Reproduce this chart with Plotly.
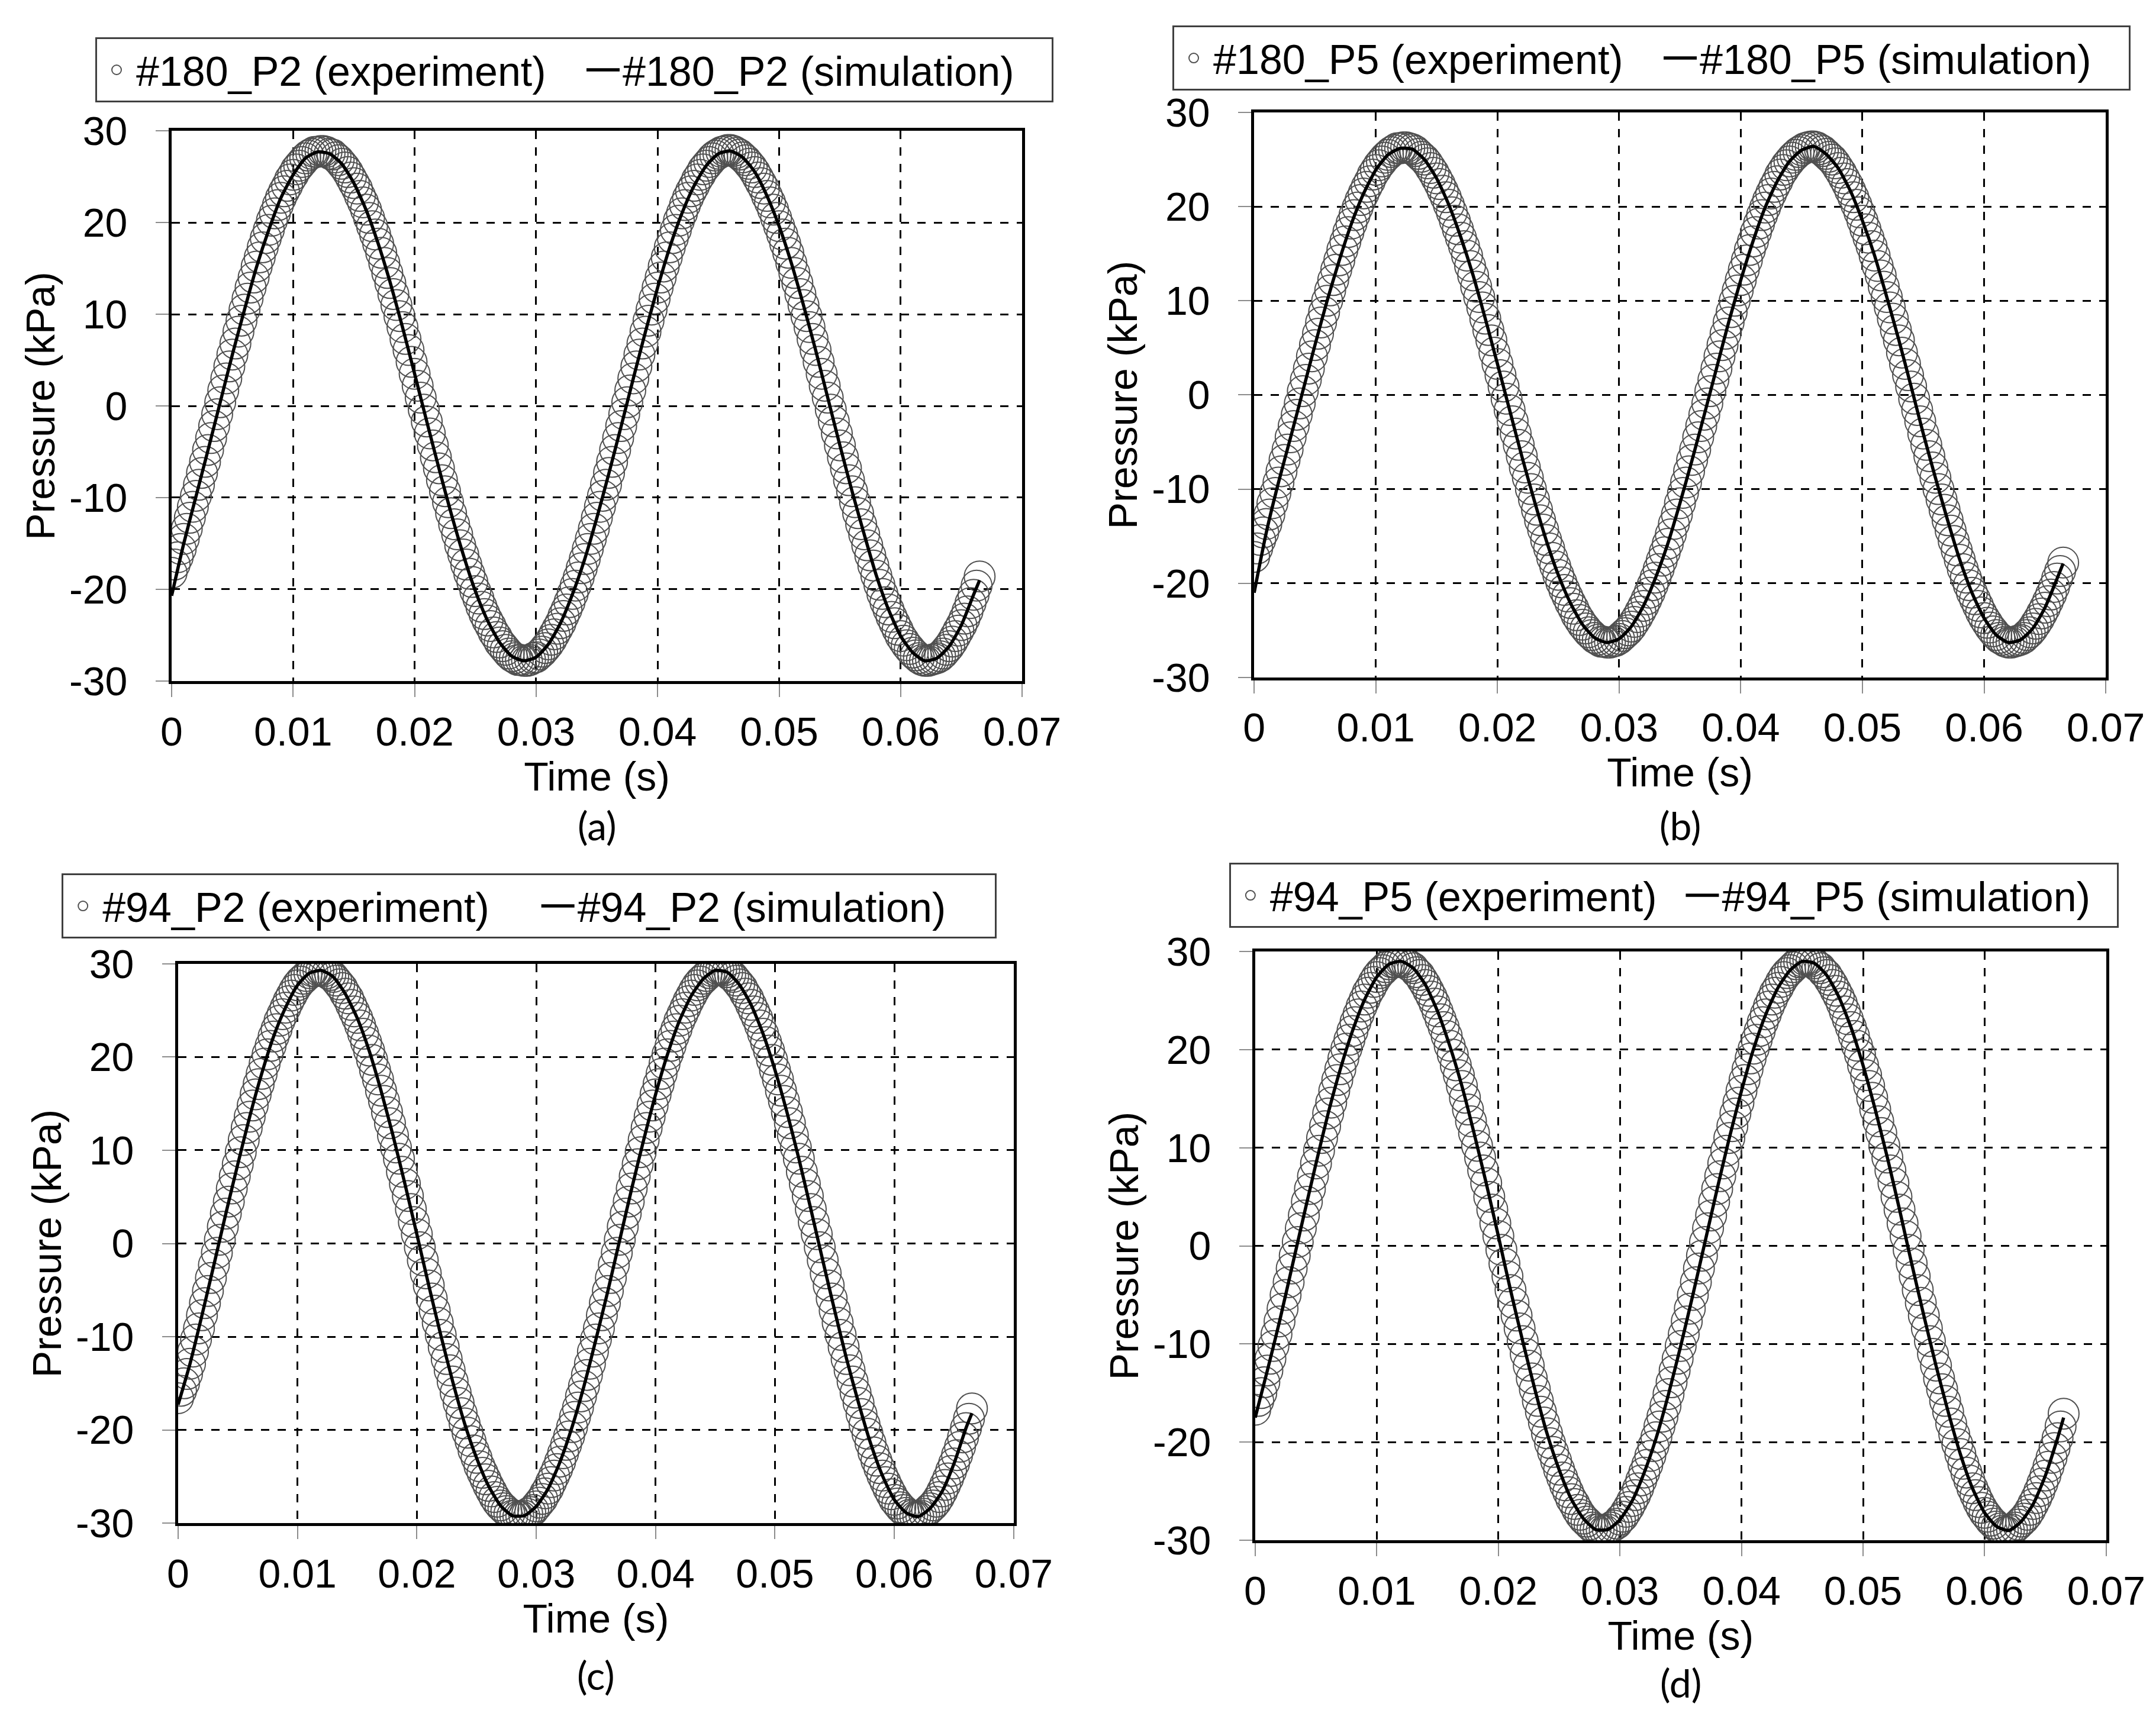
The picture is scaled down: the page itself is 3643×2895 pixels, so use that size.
import plotly.graph_objects as go

# time of the measured points (s), one every 0.25 ms
T_EXP = [
    0, 0.00025, 0.0005, 0.00075, 0.001, 0.00125, 0.0015, 0.00175,
    0.002, 0.00225, 0.0025, 0.00275, 0.003, 0.00325, 0.0035, 0.00375,
    0.004, 0.00425, 0.0045, 0.00475, 0.005, 0.00525, 0.0055, 0.00575,
    0.006, 0.00625, 0.0065, 0.00675, 0.007, 0.00725, 0.0075, 0.00775,
    0.008, 0.00825, 0.0085, 0.00875, 0.009, 0.00925, 0.0095, 0.00975,
    0.01, 0.01025, 0.0105, 0.01075, 0.011, 0.01125, 0.0115, 0.01175,
    0.012, 0.01225, 0.0125, 0.01275, 0.013, 0.01325, 0.0135, 0.01375,
    0.014, 0.01425, 0.0145, 0.01475, 0.015, 0.01525, 0.0155, 0.01575,
    0.016, 0.01625, 0.0165, 0.01675, 0.017, 0.01725, 0.0175, 0.01775,
    0.018, 0.01825, 0.0185, 0.01875, 0.019, 0.01925, 0.0195, 0.01975,
    0.02, 0.02025, 0.0205, 0.02075, 0.021, 0.02125, 0.0215, 0.02175,
    0.022, 0.02225, 0.0225, 0.02275, 0.023, 0.02325, 0.0235, 0.02375,
    0.024, 0.02425, 0.0245, 0.02475, 0.025, 0.02525, 0.0255, 0.02575,
    0.026, 0.02625, 0.0265, 0.02675, 0.027, 0.02725, 0.0275, 0.02775,
    0.028, 0.02825, 0.0285, 0.02875, 0.029, 0.02925, 0.0295, 0.02975,
    0.03, 0.03025, 0.0305, 0.03075, 0.031, 0.03125, 0.0315, 0.03175,
    0.032, 0.03225, 0.0325, 0.03275, 0.033, 0.03325, 0.0335, 0.03375,
    0.034, 0.03425, 0.0345, 0.03475, 0.035, 0.03525, 0.0355, 0.03575,
    0.036, 0.03625, 0.0365, 0.03675, 0.037, 0.03725, 0.0375, 0.03775,
    0.038, 0.03825, 0.0385, 0.03875, 0.039, 0.03925, 0.0395, 0.03975,
    0.04, 0.04025, 0.0405, 0.04075, 0.041, 0.04125, 0.0415, 0.04175,
    0.042, 0.04225, 0.0425, 0.04275, 0.043, 0.04325, 0.0435, 0.04375,
    0.044, 0.04425, 0.0445, 0.04475, 0.045, 0.04525, 0.0455, 0.04575,
    0.046, 0.04625, 0.0465, 0.04675, 0.047, 0.04725, 0.0475, 0.04775,
    0.048, 0.04825, 0.0485, 0.04875, 0.049, 0.04925, 0.0495, 0.04975,
    0.05, 0.05025, 0.0505, 0.05075, 0.051, 0.05125, 0.0515, 0.05175,
    0.052, 0.05225, 0.0525, 0.05275, 0.053, 0.05325, 0.0535, 0.05375,
    0.054, 0.05425, 0.0545, 0.05475, 0.055, 0.05525, 0.0555, 0.05575,
    0.056, 0.05625, 0.0565, 0.05675, 0.057, 0.05725, 0.0575, 0.05775,
    0.058, 0.05825, 0.0585, 0.05875, 0.059, 0.05925, 0.0595, 0.05975,
    0.06, 0.06025, 0.0605, 0.06075, 0.061, 0.06125, 0.0615, 0.06175,
    0.062, 0.06225, 0.0625, 0.06275, 0.063, 0.06325, 0.0635, 0.06375,
    0.064, 0.06425, 0.0645, 0.06475, 0.065, 0.06525, 0.0655, 0.06575,
    0.066, 0.06625, 0.0665,
]
# time of the simulated curve (s)
T_SIM = [
    0, 0.001, 0.002, 0.003, 0.004, 0.005, 0.006, 0.007, 0.008, 0.009,
    0.01, 0.011, 0.012, 0.013, 0.014, 0.015, 0.016, 0.017, 0.018, 0.019,
    0.02, 0.021, 0.022, 0.023, 0.024, 0.025, 0.026, 0.027, 0.028, 0.029,
    0.03, 0.031, 0.032, 0.033, 0.034, 0.035, 0.036, 0.037, 0.038, 0.039,
    0.04, 0.041, 0.042, 0.043, 0.044, 0.045, 0.046, 0.047, 0.048, 0.049,
    0.05, 0.051, 0.052, 0.053, 0.054, 0.055, 0.056, 0.057, 0.058, 0.059,
    0.06, 0.061, 0.062, 0.063, 0.064, 0.065, 0.066, 0.0665,
]

# (a) #180_P2, pressure in kPa
EXP_A = [
    -18.2, -17.3, -16.5, -15.6, -14.5, -13.4, -12.2, -11.0, -9.8, -8.6,
    -7.3, -6.1, -4.8, -3.5, -2.2, -0.9, 0.4, 1.7, 3.0, 4.3,
    5.6, 6.8, 8.1, 9.3, 10.5, 11.7, 12.9, 14.0, 15.2, 16.2,
    17.3, 18.3, 19.2, 20.2, 21.0, 21.9, 22.7, 23.4, 24.0, 24.7,
    25.2, 25.8, 26.2, 26.6, 27.0, 27.3, 27.5, 27.7, 27.7, 27.8,
    27.8, 27.7, 27.5, 27.4, 27.1, 26.8, 26.4, 26.0, 25.5, 24.9,
    24.3, 23.7, 22.9, 22.2, 21.4, 20.5, 19.6, 18.7, 17.7, 16.7,
    15.6, 14.5, 13.4, 12.2, 11.0, 9.8, 8.6, 7.3, 6.1, 4.8,
    3.5, 2.2, 0.9, -0.4, -1.7, -3.0, -4.3, -5.6, -6.8, -8.1,
    -9.3, -10.5, -11.7, -12.9, -14.0, -15.2, -16.2, -17.3, -18.3, -19.2,
    -20.2, -21.0, -21.9, -22.7, -23.4, -24.0, -24.7, -25.2, -25.8, -26.2,
    -26.6, -27.0, -27.3, -27.5, -27.7, -27.7, -27.8, -27.8, -27.7, -27.5,
    -27.4, -27.1, -26.8, -26.4, -26.0, -25.5, -24.9, -24.3, -23.7, -22.9,
    -22.2, -21.4, -20.5, -19.6,
    -18.7, -17.7, -16.7, -15.6, -14.5, -13.4, -12.2, -11.0, -9.8, -8.6,
    -7.3, -6.1, -4.8, -3.5, -2.2, -0.9, 0.4, 1.7, 3.0, 4.3,
    5.6, 6.8, 8.1, 9.3, 10.5, 11.7, 12.9, 14.0, 15.2, 16.2,
    17.3, 18.3, 19.2, 20.2, 21.0, 21.9, 22.7, 23.4, 24.0, 24.7,
    25.2, 25.8, 26.2, 26.6, 27.0, 27.3, 27.5, 27.7, 27.8, 27.9,
    27.9, 27.8, 27.6, 27.4, 27.1, 26.8, 26.4, 26.0, 25.5, 24.9,
    24.3, 23.7, 22.9, 22.2, 21.4, 20.5, 19.6, 18.7, 17.7, 16.7,
    15.6, 14.5, 13.4, 12.2, 11.0, 9.8, 8.6, 7.3, 6.1, 4.8,
    3.5, 2.2, 0.9, -0.4, -1.7, -3.0, -4.3, -5.6, -6.8, -8.1,
    -9.3, -10.5, -11.7, -12.9, -14.0, -15.2, -16.3, -17.4, -18.5, -19.5,
    -20.5, -21.4, -22.2, -23.0, -23.7, -24.4, -25.1, -25.6, -26.1, -26.5,
    -26.9, -27.2, -27.5, -27.7, -27.8, -27.8, -27.7, -27.6, -27.5, -27.3,
    -27.0, -26.6, -26.2, -25.7, -25.1, -24.5, -23.9, -23.2, -22.4, -21.5,
    -20.6, -19.6, -18.6,
]
SIM_A = [
    -20.7, -15.0, -9.9, -4.8, 0.4, 5.6, 10.5, 15.2, 19.2, 22.7,
    25.2, 27.0, 27.7, 27.5, 26.4, 24.3, 21.4, 17.7, 13.4, 8.6,
    3.5, -1.7, -6.8, -11.7, -16.2, -20.2, -23.4, -25.8, -27.3, -27.8,
    -27.4, -26.0, -23.7, -20.5, -16.7, -12.2, -7.3, -2.2, 3.0, 8.1,
    12.9, 17.3, 21.0, 24.0, 26.2, 27.5, 27.8, 27.1, 25.5, 22.9,
    19.6, 15.6, 11.0, 6.1, 0.9, -4.3, -9.3, -14.0, -18.5, -22.2,
    -25.1, -26.9, -27.8, -27.5, -26.2, -23.9, -20.6, -19.0,
]

# (b) #180_P5
EXP_B = [
    -17.2, -16.3, -15.4, -14.6, -13.7, -12.7, -11.5, -10.4, -9.3, -8.1,
    -6.9, -5.8, -4.5, -3.3, -2.1, -0.9, 0.4, 1.6, 2.8, 4.1,
    5.3, 6.5, 7.7, 8.8, 10.0, 11.1, 12.2, 13.3, 14.3, 15.4,
    16.3, 17.3, 18.2, 19.1, 19.9, 20.7, 21.4, 22.1, 22.7, 23.4,
    23.9, 24.4, 24.8, 25.2, 25.5, 25.8, 26.0, 26.2, 26.2, 26.3,
    26.3, 26.2, 26.1, 25.9, 25.6, 25.3, 25.0, 24.6, 24.1, 23.6,
    23.0, 22.4, 21.7, 21.0, 20.2, 19.4, 18.5, 17.6, 16.7, 15.8,
    14.8, 13.7, 12.7, 11.5, 10.4, 9.3, 8.1, 6.9, 5.8, 4.5,
    3.3, 2.1, 0.9, -0.4, -1.6, -2.8, -4.1, -5.3, -6.5, -7.7,
    -8.8, -10.0, -11.1, -12.2, -13.3, -14.3, -15.4, -16.3, -17.3, -18.2,
    -19.1, -19.9, -20.7, -21.4, -22.1, -22.7, -23.4, -23.9, -24.4, -24.8,
    -25.2, -25.5, -25.8, -26.0, -26.2, -26.2, -26.3, -26.3, -26.2, -26.1,
    -25.9, -25.6, -25.3, -25.0, -24.6, -24.1, -23.6, -23.0, -22.4, -21.7,
    -21.0, -20.2, -19.4, -18.5,
    -17.6, -16.7, -15.8, -14.8, -13.7, -12.7, -11.5, -10.4, -9.3, -8.1,
    -6.9, -5.8, -4.5, -3.3, -2.1, -0.9, 0.4, 1.6, 2.8, 4.1,
    5.3, 6.5, 7.7, 8.8, 10.0, 11.1, 12.2, 13.3, 14.3, 15.4,
    16.3, 17.3, 18.2, 19.1, 19.9, 20.7, 21.4, 22.1, 22.7, 23.4,
    23.9, 24.4, 24.8, 25.2, 25.5, 25.8, 26.0, 26.2, 26.3, 26.4,
    26.4, 26.3, 26.1, 25.9, 25.6, 25.3, 25.0, 24.6, 24.1, 23.6,
    23.0, 22.4, 21.7, 21.0, 20.2, 19.4, 18.5, 17.6, 16.7, 15.8,
    14.8, 13.7, 12.7, 11.5, 10.4, 9.3, 8.1, 6.9, 5.8, 4.5,
    3.3, 2.1, 0.9, -0.4, -1.6, -2.8, -4.1, -5.3, -6.5, -7.7,
    -8.8, -10.0, -11.1, -12.2, -13.3, -14.4, -15.5, -16.5, -17.5, -18.5,
    -19.4, -20.2, -21.0, -21.7, -22.4, -23.1, -23.7, -24.2, -24.7, -25.1,
    -25.5, -25.8, -26.0, -26.2, -26.3, -26.3, -26.2, -26.1, -26.0, -25.8,
    -25.5, -25.2, -24.8, -24.3, -23.8, -23.2, -22.6, -21.9, -21.2, -20.4,
    -19.5, -18.7, -17.8,
]
SIM_B = [
    -21.0, -14.6, -9.3, -4.5, 0.4, 5.3, 10.0, 14.3, 18.2, 21.4,
    23.9, 25.5, 26.2, 26.1, 25.0, 23.0, 20.2, 16.7, 12.7, 8.1,
    3.3, -1.6, -6.5, -11.1, -15.4, -19.1, -22.1, -24.4, -25.8, -26.3,
    -25.9, -24.6, -22.4, -19.4, -15.8, -11.5, -6.9, -2.1, 2.8, 7.7,
    12.2, 16.3, 19.9, 22.7, 24.8, 26.0, 26.4, 25.6, 24.1, 21.7,
    18.5, 14.8, 10.4, 5.8, 0.9, -4.1, -8.8, -13.3, -17.5, -21.0,
    -23.7, -25.5, -26.3, -26.0, -24.8, -22.6, -19.5, -17.9,
]

# (c) #94_P2
EXP_C = [
    -16.6, -15.8, -15.0, -14.0, -12.9, -11.6, -10.3, -9.1, -7.7, -6.4,
    -5.1, -3.7, -2.3, -1.0, 0.4, 1.8, 3.2, 4.5, 5.9, 7.2,
    8.5, 9.8, 11.1, 12.4, 13.6, 14.8, 16.0, 17.1, 18.2, 19.3,
    20.3, 21.2, 22.2, 23.0, 23.9, 24.6, 25.3, 26.0, 26.6, 27.2,
    27.7, 28.1, 28.4, 28.7, 29.0, 29.2, 29.2, 29.3, 29.3, 29.2,
    29.0, 28.8, 28.6, 28.2, 27.8, 27.4, 26.8, 26.3, 25.6, 24.9,
    24.2, 23.4, 22.5, 21.6, 20.7, 19.7, 18.6, 17.6, 16.4, 15.3,
    14.1, 12.9, 11.6, 10.3, 9.1, 7.7, 6.4, 5.1, 3.7, 2.3,
    1.0, -0.4, -1.8, -3.2, -4.5, -5.9, -7.2, -8.5, -9.8, -11.1,
    -12.4, -13.6, -14.8, -16.0, -17.1, -18.2, -19.3, -20.3, -21.2, -22.2,
    -23.0, -23.9, -24.6, -25.3, -26.0, -26.6, -27.2, -27.7, -28.1, -28.4,
    -28.7, -29.0, -29.2, -29.2, -29.3, -29.3, -29.2, -29.0, -28.8, -28.6,
    -28.2, -27.8, -27.4, -26.8, -26.3, -25.6, -24.9, -24.2, -23.4, -22.5,
    -21.6, -20.7, -19.7, -18.6,
    -17.6, -16.4, -15.3, -14.1, -12.9, -11.6, -10.3, -9.1, -7.7, -6.4,
    -5.1, -3.7, -2.3, -1.0, 0.4, 1.8, 3.2, 4.5, 5.9, 7.2,
    8.5, 9.8, 11.1, 12.4, 13.6, 14.8, 16.0, 17.1, 18.2, 19.3,
    20.3, 21.2, 22.2, 23.0, 23.9, 24.6, 25.3, 26.0, 26.6, 27.2,
    27.7, 28.1, 28.4, 28.7, 29.0, 29.2, 29.3, 29.4, 29.4, 29.3,
    29.1, 28.8, 28.6, 28.2, 27.8, 27.4, 26.8, 26.3, 25.6, 24.9,
    24.2, 23.4, 22.5, 21.6, 20.7, 19.7, 18.6, 17.6, 16.4, 15.3,
    14.1, 12.9, 11.6, 10.3, 9.1, 7.7, 6.4, 5.1, 3.7, 2.3,
    1.0, -0.4, -1.8, -3.2, -4.5, -5.9, -7.2, -8.5, -9.8, -11.1,
    -12.4, -13.6, -14.8, -16.0, -17.1, -18.3, -19.4, -20.4, -21.4, -22.4,
    -23.3, -24.1, -24.9, -25.6, -26.3, -26.9, -27.5, -27.9, -28.3, -28.6,
    -28.9, -29.1, -29.2, -29.3, -29.3, -29.2, -29.0, -28.7, -28.4, -28.1,
    -27.7, -27.2, -26.6, -25.9, -25.2, -24.4, -23.6, -22.7, -21.8, -20.8,
    -19.8, -18.8, -17.7,
]
SIM_C = [
    -17.3, -12.9, -7.7, -2.3, 3.2, 8.5, 13.6, 18.2, 22.2, 25.3,
    27.7, 29.0, 29.3, 28.6, 26.8, 24.2, 20.7, 16.4, 11.6, 6.4,
    1.0, -4.5, -9.8, -14.8, -19.3, -23.0, -26.0, -28.1, -29.2, -29.2,
    -28.2, -26.3, -23.4, -19.7, -15.3, -10.3, -5.1, 0.4, 5.9, 11.1,
    16.0, 20.3, 23.9, 26.6, 28.4, 29.3, 29.1, 27.8, 25.6, 22.5,
    18.6, 14.1, 9.1, 3.7, -1.8, -7.2, -12.4, -17.1, -21.4, -24.9,
    -27.5, -28.9, -29.3, -28.4, -26.6, -23.6, -19.8, -18.2,
]

# (d) #94_P5
EXP_D = [
    -16.7, -15.8, -15.0, -13.9, -12.7, -11.5, -10.2, -9.0, -7.7, -6.4,
    -5.0, -3.7, -2.3, -1.0, 0.4, 1.8, 3.1, 4.5, 5.8, 7.1,
    8.4, 9.7, 11.0, 12.2, 13.5, 14.6, 15.8, 16.9, 18.0, 19.1,
    20.1, 21.0, 21.9, 22.8, 23.6, 24.4, 25.1, 25.8, 26.3, 26.9,
    27.4, 27.8, 28.1, 28.4, 28.7, 28.9, 28.9, 29.0, 29.0, 28.9,
    28.7, 28.5, 28.3, 27.9, 27.6, 27.1, 26.6, 26.0, 25.4, 24.7,
    23.9, 23.1, 22.3, 21.4, 20.4, 19.5, 18.4, 17.4, 16.3, 15.1,
    13.9, 12.7, 11.5, 10.2, 9.0, 7.7, 6.4, 5.0, 3.7, 2.3,
    1.0, -0.4, -1.8, -3.1, -4.5, -5.8, -7.1, -8.4, -9.7, -11.0,
    -12.2, -13.5, -14.6, -15.8, -16.9, -18.0, -19.1, -20.1, -21.0, -21.9,
    -22.8, -23.6, -24.4, -25.1, -25.8, -26.3, -26.9, -27.4, -27.8, -28.1,
    -28.4, -28.7, -28.9, -28.9, -29.0, -29.0, -28.9, -28.7, -28.5, -28.3,
    -27.9, -27.6, -27.1, -26.6, -26.0, -25.4, -24.7, -23.9, -23.1, -22.3,
    -21.4, -20.4, -19.5, -18.4,
    -17.4, -16.3, -15.1, -13.9, -12.7, -11.5, -10.2, -9.0, -7.7, -6.4,
    -5.0, -3.7, -2.3, -1.0, 0.4, 1.8, 3.1, 4.5, 5.8, 7.1,
    8.4, 9.7, 11.0, 12.2, 13.5, 14.6, 15.8, 16.9, 18.0, 19.1,
    20.1, 21.0, 21.9, 22.8, 23.6, 24.4, 25.1, 25.8, 26.3, 26.9,
    27.4, 27.8, 28.1, 28.4, 28.7, 28.9, 29.0, 29.1, 29.1, 29.0,
    28.8, 28.5, 28.3, 27.9, 27.6, 27.1, 26.6, 26.0, 25.4, 24.7,
    23.9, 23.1, 22.3, 21.4, 20.4, 19.5, 18.4, 17.4, 16.3, 15.1,
    13.9, 12.7, 11.5, 10.2, 9.0, 7.7, 6.4, 5.0, 3.7, 2.3,
    1.0, -0.4, -1.8, -3.1, -4.5, -5.8, -7.1, -8.4, -9.7, -11.0,
    -12.2, -13.5, -14.6, -15.8, -16.9, -18.1, -19.2, -20.2, -21.2, -22.2,
    -23.1, -23.9, -24.7, -25.4, -26.1, -26.7, -27.2, -27.6, -28.0, -28.3,
    -28.6, -28.8, -29.0, -29.1, -29.0, -28.9, -28.7, -28.4, -28.1, -27.8,
    -27.4, -26.9, -26.3, -25.7, -25.0, -24.2, -23.4, -22.5, -21.6, -20.6,
    -19.6, -18.4, -17.1,
]
SIM_D = [
    -17.5, -12.7, -7.7, -2.3, 3.1, 8.4, 13.5, 18.0, 21.9, 25.1,
    27.4, 28.7, 29.0, 28.3, 26.6, 23.9, 20.4, 16.3, 11.5, 6.4,
    1.0, -4.5, -9.7, -14.6, -19.1, -22.8, -25.8, -27.8, -28.9, -28.9,
    -27.9, -26.0, -23.1, -19.5, -15.1, -10.2, -5.0, 0.4, 5.8, 11.0,
    15.8, 20.1, 23.6, 26.3, 28.1, 29.0, 28.8, 27.6, 25.4, 22.3,
    18.4, 13.9, 9.0, 3.7, -1.8, -7.1, -12.2, -16.9, -21.2, -24.7,
    -27.2, -28.6, -29.0, -28.1, -26.3, -23.4, -19.6, -17.5,
]

X_TICKS = [0, 0.01, 0.02, 0.03, 0.04, 0.05, 0.06, 0.07]
X_TICK_TEXT = ["0", "0.01", "0.02", "0.03", "0.04", "0.05", "0.06", "0.07"]
Y_TICKS = [-30, -20, -10, 0, 10, 20, 30]
Y_TICK_TEXT = ["-30", "-20", "-10", "0", "10", "20", "30"]

W, H = 3643, 2895
FONT = "Liberation Sans, Arial, sans-serif"
NB = "\u00a0"  # non-breaking space, used to space the legend entries

# gap = spaces after the experiment entry, tail = spaces after the simulation entry
panels = [
    dict(exp=EXP_A, sim=SIM_A, name="#180_P2", tag="(a)", gap=3, tail=3,
         xdom=[0.0774, 0.4719], ydom=[0.6052, 0.9264], leg=(0.0420, 0.9810), tag_y=0.5209),
    dict(exp=EXP_B, sim=SIM_B, name="#180_P5", tag="(b)", gap=3, tail=3,
         xdom=[0.5795, 0.9745], ydom=[0.6073, 0.9371], leg=(0.5416, 0.9879), tag_y=0.5209),
    dict(exp=EXP_C, sim=SIM_C, name="#94_P2", tag="(c)", gap=4, tail=4,
         xdom=[0.0804, 0.4680], ydom=[0.1136, 0.4401], leg=(0.0264, 0.4929), tag_y=0.0249),
    dict(exp=EXP_D, sim=SIM_D, name="#94_P5", tag="(d)", gap=2, tail=2,
         xdom=[0.5800, 0.9747], ydom=[0.1036, 0.4473], leg=(0.5679, 0.4991), tag_y=0.0207),
]

fig = go.Figure()
layout = {}
annotations = []

for i, p in enumerate(panels, start=1):
    sfx = "" if i == 1 else str(i)
    leg = "legend" + sfx

    # measured points: open grey circles
    fig.add_trace(go.Scatter(
        x=T_EXP, y=p["exp"], mode="markers",
        name=p["name"] + " (experiment)" + NB * p["gap"],
        marker=dict(symbol="circle-open", size=52, color="#505050", line=dict(width=2)),
        xaxis="x" + sfx, yaxis="y" + sfx, legend=leg,
    ))
    # simulation: solid black line on top
    fig.add_trace(go.Scatter(
        x=T_SIM, y=p["sim"], mode="lines",
        name=p["name"] + " (simulation)" + NB * p["tail"],
        line=dict(color="black", width=5.5, shape="spline", smoothing=0.6),
        xaxis="x" + sfx, yaxis="y" + sfx, legend=leg,
    ))

    common = dict(
        showline=True, linecolor="black", linewidth=5, mirror=True,
        showgrid=True, gridcolor="black", gridwidth=3, griddash="14px,14px",
        zeroline=False, ticks="outside", ticklen=22, tickwidth=2, tickcolor="#8c8c8c",
        tickfont=dict(family=FONT, size=68, color="black"),
    )
    layout["xaxis" + sfx] = dict(
        common, domain=p["xdom"], anchor="y" + sfx, range=[0, 0.07],
        tickvals=X_TICKS, ticktext=X_TICK_TEXT,
        title=dict(text="Time (s)", font=dict(family=FONT, size=68, color="black"), standoff=8),
    )
    layout["yaxis" + sfx] = dict(
        common, domain=p["ydom"], anchor="x" + sfx, range=[-30, 30],
        tickvals=Y_TICKS, ticktext=Y_TICK_TEXT, ticklabelstandoff=34,
        title=dict(text="Pressure (kPa)", font=dict(family=FONT, size=68, color="black"), standoff=4),
    )
    layout[leg] = dict(
        orientation="h", x=p["leg"][0], y=p["leg"][1], xanchor="left", yanchor="top",
        xref="paper", yref="paper", itemwidth=56,
        bgcolor="white", bordercolor="#404040", borderwidth=3,
        font=dict(family=FONT, size=70, color="black"),
    )
    annotations.append(dict(
        text=p["tag"], x=(p["xdom"][0] + p["xdom"][1]) / 2, y=p["tag_y"],
        xref="paper", yref="paper", xanchor="center", yanchor="middle", showarrow=False,
        font=dict(family="Lato, Open Sans, sans-serif", size=66, color="black"),
    ))

fig.update_layout(
    width=W, height=H, autosize=False,
    margin=dict(l=0, r=0, t=0, b=0, autoexpand=False),
    paper_bgcolor="white", plot_bgcolor="white",
    font=dict(family=FONT, color="black"),
    annotations=annotations,
    **layout,
)

fig.write_html("out.html")
